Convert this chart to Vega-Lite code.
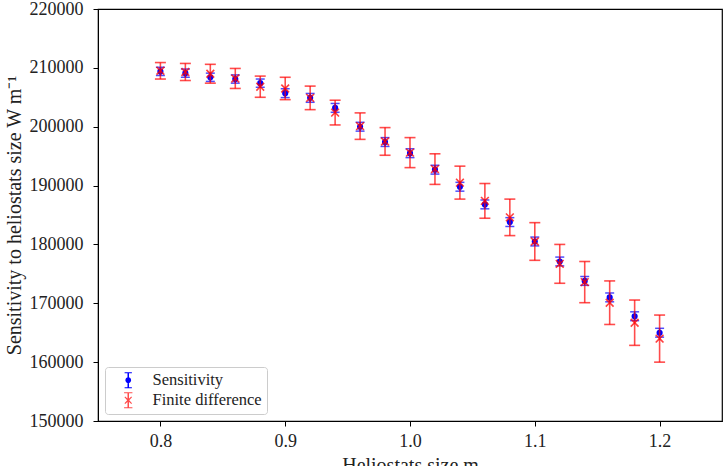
{
  "$schema": "https://vega.github.io/schema/vega-lite/v6.json",
  "width": 624,
  "height": 412,
  "autosize": "none",
  "padding": {"left": 98, "top": 9, "right": 6, "bottom": 45},
  "background": "white",
  "config": {
    "font": "Liberation Serif",
    "view": {"stroke": "black", "strokeWidth": 1.2},
    "axis": {
      "grid": false,
      "domainColor": "black",
      "tickColor": "black",
      "tickSize": 5,
      "labelColor": "#222222",
      "labelFontSize": 18,
      "titleColor": "#222222",
      "titleFontSize": 20,
      "titleFontWeight": "normal"
    },
    "legend": {
      "title": null,
      "orient": "none",
      "legendX": 7,
      "legendY": 358,
      "padding": 5,
      "fillColor": "white",
      "strokeColor": "#cccccc",
      "cornerRadius": 3,
      "labelFontSize": 16.5,
      "labelColor": "#222222",
      "labelOffset": 16,
      "symbolOffset": 10,
      "rowPadding": 3,
      "symbolSize": 230,
      "symbolStrokeWidth": 0
    }
  },
  "data": {
    "values": [
      {"x": 0.80, "series": "Sensitivity", "value": 209400, "err": 700},
      {"x": 0.82, "series": "Sensitivity", "value": 209100, "err": 700},
      {"x": 0.84, "series": "Sensitivity", "value": 208400, "err": 700},
      {"x": 0.86, "series": "Sensitivity", "value": 208100, "err": 700},
      {"x": 0.88, "series": "Sensitivity", "value": 207400, "err": 700},
      {"x": 0.90, "series": "Sensitivity", "value": 205700, "err": 750},
      {"x": 0.92, "series": "Sensitivity", "value": 204900, "err": 750},
      {"x": 0.94, "series": "Sensitivity", "value": 203200, "err": 750},
      {"x": 0.96, "series": "Sensitivity", "value": 200000, "err": 750},
      {"x": 0.98, "series": "Sensitivity", "value": 197400, "err": 750},
      {"x": 1.00, "series": "Sensitivity", "value": 195500, "err": 750},
      {"x": 1.02, "series": "Sensitivity", "value": 192700, "err": 750},
      {"x": 1.04, "series": "Sensitivity", "value": 189800, "err": 750},
      {"x": 1.06, "series": "Sensitivity", "value": 186800, "err": 750},
      {"x": 1.08, "series": "Sensitivity", "value": 183800, "err": 750},
      {"x": 1.10, "series": "Sensitivity", "value": 180500, "err": 750},
      {"x": 1.12, "series": "Sensitivity", "value": 177100, "err": 750},
      {"x": 1.14, "series": "Sensitivity", "value": 173800, "err": 750},
      {"x": 1.16, "series": "Sensitivity", "value": 171000, "err": 750},
      {"x": 1.18, "series": "Sensitivity", "value": 167800, "err": 750},
      {"x": 1.20, "series": "Sensitivity", "value": 165000, "err": 750},
      {"x": 0.80, "series": "Finite difference", "value": 209500, "err": 1400},
      {"x": 0.82, "series": "Finite difference", "value": 209300, "err": 1450},
      {"x": 0.84, "series": "Finite difference", "value": 209000, "err": 1600},
      {"x": 0.86, "series": "Finite difference", "value": 208200, "err": 1700},
      {"x": 0.88, "series": "Finite difference", "value": 206800, "err": 1800},
      {"x": 0.90, "series": "Finite difference", "value": 206500, "err": 1900},
      {"x": 0.92, "series": "Finite difference", "value": 204900, "err": 2000},
      {"x": 0.94, "series": "Finite difference", "value": 202400, "err": 2100},
      {"x": 0.96, "series": "Finite difference", "value": 200100, "err": 2250},
      {"x": 0.98, "series": "Finite difference", "value": 197500, "err": 2350},
      {"x": 1.00, "series": "Finite difference", "value": 195600, "err": 2550},
      {"x": 1.02, "series": "Finite difference", "value": 192800, "err": 2600},
      {"x": 1.04, "series": "Finite difference", "value": 190500, "err": 2800},
      {"x": 1.06, "series": "Finite difference", "value": 187400, "err": 2950},
      {"x": 1.08, "series": "Finite difference", "value": 184600, "err": 3100},
      {"x": 1.10, "series": "Finite difference", "value": 180500, "err": 3200},
      {"x": 1.12, "series": "Finite difference", "value": 176700, "err": 3300},
      {"x": 1.14, "series": "Finite difference", "value": 173600, "err": 3500},
      {"x": 1.16, "series": "Finite difference", "value": 170100, "err": 3700},
      {"x": 1.18, "series": "Finite difference", "value": 166700, "err": 3850},
      {"x": 1.20, "series": "Finite difference", "value": 164000, "err": 4000}
    ]
  },
  "encoding": {
    "x": {
      "field": "x",
      "type": "quantitative",
      "scale": {"domain": [0.75, 1.25], "nice": false, "zero": false},
      "axis": {"values": [0.8, 0.9, 1.0, 1.1, 1.2], "format": ".1f", "title": "Heliostats size m", "labelPadding": 6, "titlePadding": 5}
    },
    "y": {
      "field": "value",
      "type": "quantitative",
      "scale": {"domain": [150000, 220000], "nice": false, "zero": false},
      "axis": {"values": [150000, 160000, 170000, 180000, 190000, 200000, 210000, 220000], "format": "d", "title": "Sensitivity to heliostats size W m⁻¹", "labelPadding": 10, "titlePadding": 5}
    }
  },
  "layer": [
    {
      "transform": [{"filter": "false"}],
      "mark": {"type": "point", "filled": true},
      "encoding": {
        "color": {
          "field": "series",
          "type": "nominal",
          "scale": {"domain": ["Sensitivity", "Finite difference"], "range": ["#0000ff", "#ff0000"]}
        },
        "opacity": {
          "field": "series",
          "type": "nominal",
          "scale": {"domain": ["Sensitivity", "Finite difference"], "range": [1, 0.7]}
        },
        "shape": {
          "field": "series",
          "type": "nominal",
          "scale": {"domain": ["Sensitivity", "Finite difference"], "range": ["M-0.1,-1L0.1,-1L0.1,1L-0.1,1Z M-0.48,-1.05L0.48,-1.05L0.48,-0.93L-0.48,-0.93Z M-0.48,0.93L0.48,0.93L0.48,1.05L-0.48,1.05Z M0.38,0A0.38,0.38 0 1,1 -0.38,0A0.38,0.38 0 1,1 0.38,0Z", "M-0.1,-1L0.1,-1L0.1,1L-0.1,1Z M-0.55,-1.05L0.55,-1.05L0.55,-0.93L-0.55,-0.93Z M-0.55,0.93L0.55,0.93L0.55,1.05L-0.55,1.05Z M0.5,-0.4L0.14,0L0.5,0.4L0.4,0.5L0,0.14L-0.4,0.5L-0.5,0.4L-0.14,0L-0.5,-0.4L-0.4,-0.5L0,-0.14L0.4,-0.5Z"]}
        }
      }
    },
    {
      "transform": [{"filter": "datum.series === 'Sensitivity'"}],
      "mark": {"type": "errorbar", "color": "#0000ff", "thickness": 1.5, "ticks": {"size": 9, "thickness": 1.5}},
      "encoding": {
        "yError": {"field": "err"}
      }
    },
    {
      "transform": [{"filter": "datum.series === 'Sensitivity'"}],
      "mark": {"type": "point", "filled": true, "size": 38, "opacity": 1, "color": "#0000ff", "shape": "circle"}
    },
    {
      "transform": [{"filter": "datum.series === 'Finite difference'"}],
      "mark": {"type": "errorbar", "color": "#ff0000", "opacity": 0.7, "thickness": 1.6, "ticks": {"size": 11, "thickness": 1.6}},
      "encoding": {
        "yError": {"field": "err"}
      }
    },
    {
      "transform": [{"filter": "datum.series === 'Finite difference'"}],
      "mark": {"type": "point", "filled": true, "size": 120, "opacity": 0.75, "color": "#ff0000", "shape": "M0.813,-0.601L0.212,0L0.813,0.601L0.601,0.813L0,0.212L-0.601,0.813L-0.813,0.601L-0.212,0L-0.813,-0.601L-0.601,-0.813L0,-0.212L0.601,-0.813Z"}
    }
  ]
}
